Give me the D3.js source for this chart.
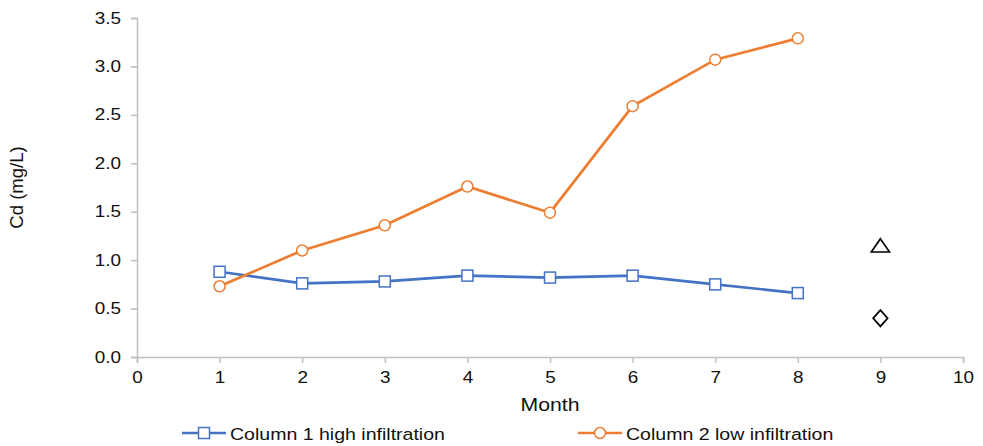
<!DOCTYPE html>
<html>
<head>
<meta charset="utf-8">
<script src="https://cdn.jsdelivr.net/npm/d3@7"></script>
<style>
body { margin: 0; background: #fff; }
text { font-family: "Liberation Sans", Arial, sans-serif; fill: #111; }
</style>
</head>
<body>
<script>
var months = [1, 2, 3, 4, 5, 6, 7, 8];
var highInfiltration = [0.88, 0.76, 0.78, 0.84, 0.82, 0.84, 0.75, 0.66];
var lowInfiltration = [0.73, 1.10, 1.36, 1.76, 1.49, 2.59, 3.07, 3.29];
var extraMonth = 9;
var triangleValue = 1.14;
var diamondValue = 0.40;
var xTicks = [0, 1, 2, 3, 4, 5, 6, 7, 8, 9, 10];
var yTicks = [0, 0.5, 1.0, 1.5, 2.0, 2.5, 3.0, 3.5];

var w = 983, h = 446;
var margin = {left: 137, right: 20, top: 18, bottom: 89};
var stretch = 1.18; // text in the picture is a bit wide

var svg = d3.select("body")
    .append("svg")
    .attr("width", w)
    .attr("height", h);

var xScale = d3.scaleLinear()
    .domain([0, 10])
    .range([margin.left, w - margin.right]);
var yScale = d3.scaleLinear()
    .domain([0, 3.5])
    .range([h - margin.bottom, margin.top]);

// axes
var xAxis = svg.append("g")
    .attr("transform", "translate(0," + yScale(0) + ")")
    .call(d3.axisBottom(xScale).tickValues(xTicks).tickSize(6).tickFormat(d3.format("d")));
var yAxis = svg.append("g")
    .attr("transform", "translate(" + xScale(0) + ",0)")
    .call(d3.axisLeft(yScale).tickValues(yTicks).tickSize(6).tickFormat(d3.format(".1f")));

[xAxis, yAxis].forEach(function (a) {
    a.select(".domain").attr("stroke", "#bfbfbf").attr("stroke-width", 1.5);
    a.selectAll(".tick line").attr("stroke", "#bfbfbf").attr("stroke-width", 1.5);
    a.selectAll("text")
        .attr("font-size", "16px")
        .attr("fill", "#111")
        .attr("font-family", "Liberation Sans, Arial, sans-serif");
});
xAxis.selectAll("text")
    .attr("y", 15)
    .attr("dy", "0.71em")
    .attr("transform", "scale(" + stretch + ",1)");
yAxis.selectAll("text")
    .attr("x", -16 / stretch)
    .attr("transform", "scale(" + stretch + ",1)");

// titles
svg.append("text")
    .attr("transform", "translate(23," + ((yScale(0) + yScale(3.5)) / 2) + ") rotate(-90)")
    .attr("text-anchor", "middle")
    .attr("font-size", "18.5px")
    .text("Cd (mg/L)");
svg.append("text")
    .attr("transform", "translate(" + xScale(5) + ",411) scale(" + stretch + ",1)")
    .attr("text-anchor", "middle")
    .attr("font-size", "18px")
    .text("Month");

var line = d3.line()
    .x(function (d) { return xScale(d[0]); })
    .y(function (d) { return yScale(d[1]); });

var series = [
    {name: "Column 1 high infiltration", values: highInfiltration, color: "#4472c4", shape: "square"},
    {name: "Column 2 low infiltration", values: lowInfiltration, color: "#ed7d31", shape: "circle"}
];

function drawMarker(g, shape, color, x, y) {
    if (shape === "square") {
        g.append("rect")
            .attr("x", x - 5.5).attr("y", y - 5.5)
            .attr("width", 11).attr("height", 11)
            .attr("fill", "#fff")
            .attr("stroke", color)
            .attr("stroke-width", 1.5);
    } else {
        g.append("circle")
            .attr("cx", x).attr("cy", y).attr("r", 5.5)
            .attr("fill", "#fff")
            .attr("stroke", color)
            .attr("stroke-width", 1.5);
    }
}

series.forEach(function (s) {
    var pts = months.map(function (m, i) { return [m, s.values[i]]; });
    svg.append("path")
        .datum(pts)
        .attr("d", line)
        .attr("fill", "none")
        .attr("stroke", s.color)
        .attr("stroke-width", 2.7);
    var g = svg.append("g");
    pts.forEach(function (p) {
        drawMarker(g, s.shape, s.color, xScale(p[0]), yScale(p[1]));
    });
});

// single points at month 9
svg.append("path")
    .attr("d", d3.symbol().type(d3.symbolTriangle).size(100))
    .attr("transform", "translate(" + xScale(extraMonth) + "," + (yScale(triangleValue) + 1) + ") scale(1.2,1)")
    .attr("fill", "none")
    .attr("stroke", "#000")
    .attr("stroke-width", 1.5);
svg.append("path")
    .attr("d", d3.symbol().type(d3.symbolDiamond).size(70))
    .attr("transform", "translate(" + xScale(extraMonth) + "," + yScale(diamondValue) + ") scale(1.6,1.05)")
    .attr("fill", "none")
    .attr("stroke", "#000")
    .attr("stroke-width", 1.3);

// legend
var legendX = [182, 578];
series.forEach(function (s, i) {
    var g = svg.append("g").attr("transform", "translate(" + legendX[i] + ",433)");
    g.append("line")
        .attr("x1", 0).attr("x2", 44)
        .attr("stroke", s.color)
        .attr("stroke-width", 2.7);
    drawMarker(g, s.shape, s.color, 22, 0);
    g.append("text")
        .attr("transform", "translate(48,6.5) scale(1.15,1)")
        .attr("font-size", "17px")
        .text(s.name);
});
</script>
</body>
</html>
